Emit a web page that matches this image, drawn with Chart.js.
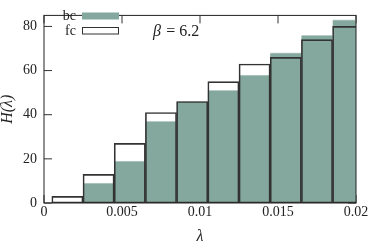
<!DOCTYPE html>
<html>
<head>
<meta charset="utf-8">
<script src="https://cdn.jsdelivr.net/npm/chart.js@4"></script>
<style>
  html, body { margin: 0; padding: 0; background: #fff; }
  #wrap { width: 371px; height: 245px; }
</style>
</head>
<body>
<div id="wrap"><canvas id="hist"></canvas></div>
<script>
// histogram of lambda, bc vs fc
const binCenters = [0.0015, 0.0035, 0.0055, 0.0075, 0.0095, 0.0115, 0.0135, 0.0155, 0.0175, 0.0195];
const bcCounts = [0, 9, 19, 37, 46, 51, 58, 68, 76, 83];
const fcCounts = [3, 13, 27, 41, 46, 55, 63, 66, 74, 80];
const xTicks = [0, 0.005, 0.01, 0.015, 0.02];
const xTickLabels = ['0', '0.005', '0.01', '0.015', '0.02'];
const yTicks = [0, 20, 40, 60, 80];
const betaLabel = 'β = 6.2';

const SERIF = '"Liberation Serif", "DejaVu Serif", serif';
const BC_FILL = '#84a89d';
const LINE = '#333';

const toPoints = (ys) => binCenters.map((x, i) => ({ x, y: ys[i] }));

// inward tick marks, drawn under the bars
const tickMarks = {
  id: 'tickMarks',
  beforeDatasetsDraw(chart) {
    const { ctx, chartArea: a, scales } = chart;
    ctx.save();
    ctx.strokeStyle = LINE;
    ctx.lineWidth = 1;
    ctx.beginPath();
    yTicks.forEach(v => {
      const y = scales.y.getPixelForValue(v);
      ctx.moveTo(a.left, y); ctx.lineTo(a.left + 8, y);
      ctx.moveTo(a.right, y); ctx.lineTo(a.right - 8, y);
    });
    xTicks.forEach(v => {
      const x = scales.x.getPixelForValue(v);
      ctx.moveTo(x, a.top); ctx.lineTo(x, a.top + 8);
      ctx.moveTo(x, a.bottom); ctx.lineTo(x, a.bottom - 8);
    });
    ctx.stroke();
    ctx.restore();
  },
  afterDatasetsDraw(chart) {
    const { ctx, chartArea: a } = chart;
    ctx.save();
    ctx.strokeStyle = '#222';
    ctx.lineWidth = 1;
    ctx.strokeRect(a.left, a.top, a.right - a.left, a.bottom - a.top);
    ctx.restore();
  }
};

// legend on the left, label then swatch, plus the beta note
const keyBox = {
  id: 'keyBox',
  afterDraw(chart) {
    const { ctx } = chart;
    ctx.save();
    ctx.font = '14px ' + SERIF;
    ctx.fillStyle = '#222';
    ctx.textAlign = 'right';
    ctx.textBaseline = 'middle';
    ctx.fillText('bc', 76, 16);
    ctx.fillText('fc', 76, 31);

    ctx.fillStyle = BC_FILL;
    ctx.fillRect(82, 12.5, 37, 7);
    ctx.fillStyle = '#fff';
    ctx.fillRect(82, 27.5, 37, 7);
    ctx.strokeStyle = LINE;
    ctx.lineWidth = 1;
    ctx.strokeRect(82.5, 27.5, 36, 6.5);

    ctx.fillStyle = '#222';
    ctx.textAlign = 'left';
    ctx.font = 'italic 16px ' + SERIF;
    ctx.fillText('β', 153, 32);
    ctx.font = '16px ' + SERIF;
    ctx.fillText(' = 6.2', 153 + ctx.measureText('β').width + 1, 32);
    ctx.restore();
  }
};

new Chart(document.getElementById('hist'), {
  type: 'bar',
  data: {
    datasets: [
      {
        label: 'bc',
        data: toPoints(bcCounts),
        backgroundColor: BC_FILL,
        borderColor: '#b8cdc6',
        borderWidth: { top: 1, left: 0, right: 0, bottom: 0 },
        borderSkipped: false,
        order: 2
      },
      {
        label: 'fc',
        data: toPoints(fcCounts),
        backgroundColor: 'rgba(0,0,0,0)',
        borderColor: LINE,
        borderWidth: 1,
        borderSkipped: false,
        order: 1
      }
    ]
  },
  options: {
    responsive: true,
    maintainAspectRatio: false,
    animation: false,
    grouped: false,
    barPercentage: 1,
    categoryPercentage: 1,
    layout: { padding: { left: 0, right: 15, top: 0, bottom: 0 } },
    plugins: {
      legend: { display: false },
      tooltip: { enabled: false }
    },
    scales: {
      x: {
        type: 'linear',
        offset: false,
        min: 0,
        max: 0.02,
        afterBuildTicks: (s) => { s.ticks = xTicks.map(v => ({ value: v })); },
        afterFit: (s) => { s.height = 42; },
        ticks: {
          callback: (v) => xTickLabels[xTicks.indexOf(v)] ?? '',
          color: '#222',
          font: { family: SERIF, size: 14 },
          padding: 1,
          maxRotation: 0
        },
        grid: { display: false, drawTicks: false },
        border: { display: false },
        title: {
          display: true,
          text: 'λ',
          color: '#222',
          font: { family: SERIF, size: 16, style: 'italic', lineHeight: 1 },
          padding: { top: 0, bottom: 0 }
        }
      },
      y: {
        min: 0,
        max: 85,
        afterBuildTicks: (s) => { s.ticks = yTicks.map(v => ({ value: v })); },
        afterFit: (s) => { s.width = 44; },
        ticks: {
          color: '#222',
          font: { family: SERIF, size: 14 },
          padding: 7
        },
        grid: { display: false, drawTicks: false },
        border: { display: false },
        title: {
          display: true,
          text: 'H(λ)',
          color: '#222',
          font: { family: SERIF, size: 16, style: 'italic', lineHeight: 1 },
          padding: { top: 0, bottom: 0 }
        }
      }
    }
  },
  plugins: [tickMarks, keyBox]
});
</script>
</body>
</html>
